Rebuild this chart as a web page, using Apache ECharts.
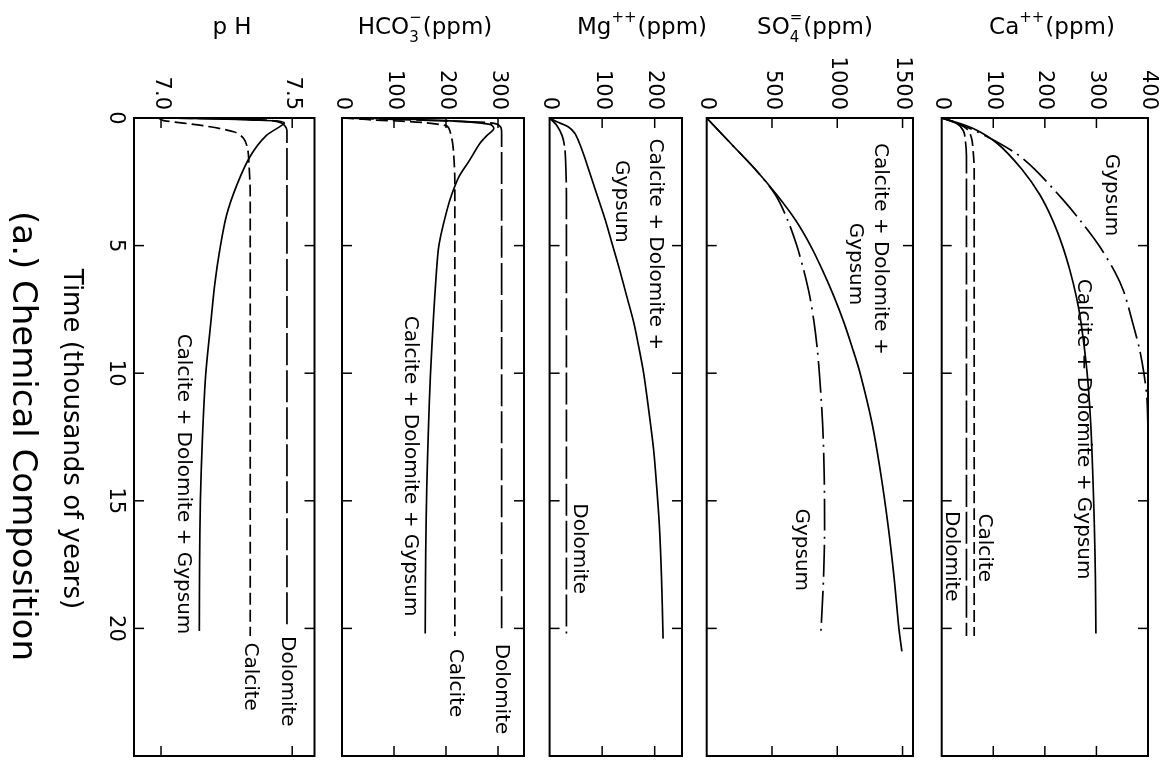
<!DOCTYPE html>
<html>
<head>
<meta charset="utf-8">
<script src="https://cdn.jsdelivr.net/npm/echarts@6/dist/echarts.min.js"></script>
<style>
  html, body { margin: 0; padding: 0; background: #fff; }
  #chart { width: 1166px; height: 766px; }
</style>
</head>
<body>
<div id="chart"></div>
<script>
// ---- Data: [time (thousands of years), value] ----
const timeTicks = [0, 5, 10, 15, 20];
const TIME_MAX = 25;

const phDolomite = [[0, 7.0], [0.08, 7.40], [0.2, 7.46], [0.5, 7.48], [20, 7.48]];
const phCalcite = [[0, 6.99], [0.1, 7.01], [0.3, 7.16], [0.55, 7.28], [0.8, 7.315], [1.2, 7.33], [1.75, 7.335], [3, 7.34], [20.3, 7.34]];
const phMix = [[0, 7.0], [0.08, 7.35], [0.2, 7.47], [0.7, 7.40], [1.5, 7.34], [2.6, 7.29], [3.8, 7.25], [5.1, 7.225], [6.5, 7.205], [8, 7.19], [10.1, 7.17], [12.5, 7.158], [15, 7.15], [17.5, 7.147], [20.1, 7.146]];

const hco3Dolomite = [[0, 0], [0.1, 180], [0.2, 290], [0.35, 305], [0.6, 307], [20, 307]];
const hco3Calcite = [[0, 0], [0.05, 40], [0.3, 200], [0.8, 211], [1.5, 215], [2.5, 217], [20.3, 217]];
const hco3Mix = [[0, 0], [0.1, 200], [0.25, 285], [0.4, 292], [0.7, 278], [1, 265], [1.7, 244], [2.3, 225], [3, 211], [3.6, 202], [4.6, 190], [5.2, 185], [6.5, 180], [7.8, 176], [10.1, 170], [12, 166.5], [14.5, 163], [17, 161], [20.2, 160]];

const mgDolomite = [[0, 0], [0.3, 14], [0.7, 24], [1.2, 29], [2, 31], [3, 32], [20.2, 32]];
const mgMix = [[0, 0], [0.15, 14], [0.35, 36], [0.6, 48], [1, 57], [1.5, 66], [2, 74], [3, 90], [4, 106], [5, 120], [6, 134], [7, 147], [8, 160], [9, 170], [10, 179], [11.5, 189], [13, 198], [14.5, 204], [16, 209], [18, 213], [20.4, 216]];

const so4Mix = [[0, 0], [1, 185], [2, 370], [3, 535], [4, 680], [5, 795], [6, 890], [7, 975], [8, 1050], [9, 1115], [10, 1175], [12, 1268], [14, 1335], [16, 1390], [18, 1435], [20, 1472], [20.9, 1495]];
const so4Gypsum = [[0, 0], [1, 185], [2, 370], [3, 525], [4, 620], [5, 690], [6, 745], [7, 790], [8, 822], [9, 846], [10, 863], [12, 888], [14, 900], [16, 903], [18, 895], [20.1, 875]];

const caCalcite = [[0, 0], [0.2, 30], [0.45, 50], [0.8, 58], [1.3, 61], [2, 63], [20.3, 63]];
const caDolomite = [[0, 0], [0.2, 28], [0.5, 42], [0.9, 46], [1.5, 48], [20.3, 48]];
const caMix = [[0, 0], [0.4, 60], [1, 108], [2, 155], [3, 190], [4, 215], [5, 234], [6, 249], [7, 261], [8, 270], [10, 282], [12, 289], [14, 293], [16, 296], [18, 298], [20.2, 299]];
const caGypsum = [[0, 0], [0.5, 65], [1.33, 140], [2, 180], [3.2, 235], [4, 268], [5, 305], [6, 335], [6.8, 353], [8, 370], [9.1, 384], [10, 392], [11, 398], [12.4, 400]];

// Tick values of each value axis
const phTicks = [7.0, 7.5];
const hco3Ticks = [0, 100, 200, 300];
const mgTicks = [0, 100, 200];
const so4Ticks = [0, 500, 1000, 1500];
const caTicks = [0, 100, 200, 300, 400];

// Curve annotations: [text, value, time where the text starts]
const phNotes = [['Calcite + Dolomite + Gypsum', 7.085, 8.45], ['Calcite', 7.34, 20.55], ['Dolomite', 7.48, 20.3]];
const hco3Notes = [['Calcite + Dolomite + Gypsum', 131, 7.75], ['Calcite', 217, 20.8], ['Dolomite', 307, 20.6]];
const mgNotes = [['Calcite + Dolomite +', 201, 0.8], ['Gypsum', 137, 1.65], ['Dolomite', 56, 15.1]];
const so4Notes = [['Calcite + Dolomite +', 1327, 0.98], ['Gypsum', 1137, 4.1], ['Gypsum', 722, 15.3]];
const caNotes = [['Gypsum', 329, 1.4], ['Calcite + Dolomite + Gypsum', 274, 6.3], ['Calcite', 82, 15.5], ['Dolomite', 19, 15.4]];

// ---- Layout and styles ----
const FONT = 'DejaVu Sans';
const DASH = {
  mix: 'solid',
  calcite: [12, 5],
  dolomite: [32, 5],
  gypsum: [32, 6, 2, 6]
};
const TOP = 118, BOTTOM = 10, TICK_LEN = 10;

const panels = [
  { left: 134, width: 180.5, min: 6.897, max: 7.585, ticks: phTicks, fmt: v => v.toFixed(1),
    lines: [[phDolomite, 'dolomite'], [phCalcite, 'calcite'], [phMix, 'mix']], notes: phNotes },
  { left: 342, width: 182, min: 0, max: 350, ticks: hco3Ticks, fmt: v => String(v),
    lines: [[hco3Dolomite, 'dolomite'], [hco3Calcite, 'calcite'], [hco3Mix, 'mix']], notes: hco3Notes },
  { left: 549.6, width: 132.4, min: 0, max: 252, ticks: mgTicks, fmt: v => String(v),
    lines: [[mgDolomite, 'dolomite'], [mgMix, 'mix']], notes: mgNotes },
  { left: 706.7, width: 206.3, min: 0, max: 1580, ticks: so4Ticks, fmt: v => String(v),
    lines: [[so4Gypsum, 'gypsum'], [so4Mix, 'mix']], notes: so4Notes },
  { left: 941.7, width: 206.3, min: 0, max: 400, ticks: caTicks, fmt: v => String(v),
    lines: [[caCalcite, 'calcite'], [caDolomite, 'dolomite'], [caGypsum, 'gypsum'], [caMix, 'mix']], notes: caNotes }
];

const grid = [], xAxis = [], yAxis = [], series = [];
const tickLine = { stroke: '#000', lineWidth: 1.5 };

// Inward-pointing tick marks on all four sides of a panel, placed through the axes' scales
function tickRenderer(p) {
  return function (params, api) {
    const kind = api.value(0), v = api.value(1);
    const lines = [];
    if (kind === 0) { // value tick: top and bottom edges
      const a = api.coord([v, 0]), b = api.coord([v, TIME_MAX]);
      lines.push([a[0], a[1], a[0], a[1] + TICK_LEN], [b[0], b[1], b[0], b[1] - TICK_LEN]);
    } else {          // time tick: left and right edges
      const a = api.coord([p.min, v]), b = api.coord([p.max, v]);
      lines.push([a[0], a[1], a[0] + TICK_LEN, a[1]], [b[0], b[1], b[0] - TICK_LEN, b[1]]);
    }
    return { type: 'group', children: lines.map(l => ({
      type: 'line', shape: { x1: l[0], y1: l[1], x2: l[2], y2: l[3] }, style: tickLine })) };
  };
}

panels.forEach((p, i) => {
  grid.push({ left: p.left, width: p.width, top: TOP, bottom: BOTTOM, show: true,
    borderColor: '#000', borderWidth: 2, backgroundColor: 'transparent' });

  xAxis.push({ type: 'value', gridIndex: i, min: p.min, max: p.max, position: 'top',
    splitLine: { show: false }, axisLine: { show: false }, axisTick: { show: false },
    axisLabel: { show: true, customValues: p.ticks, rotate: -90, margin: 8, formatter: p.fmt,
      fontFamily: FONT, fontSize: 21, color: '#000' } });

  yAxis.push({ type: 'value', gridIndex: i, min: 0, max: TIME_MAX, inverse: true, position: 'left',
    splitLine: { show: false }, axisLine: { show: false }, axisTick: { show: false },
    axisLabel: { show: i === 0, customValues: timeTicks, rotate: -90, margin: 8,
      fontFamily: FONT, fontSize: 21, color: '#000' } });

  p.lines.forEach(([arr, kind]) => {
    series.push({
      type: 'line', xAxisIndex: i, yAxisIndex: i,
      data: arr.map(d => [d[1], d[0]]),
      symbol: 'none', showSymbol: false, smooth: 0.3, silent: true,
      lineStyle: { color: '#000', width: 1.7, type: DASH[kind] }
    });
  });

  const tickData = p.ticks.filter(v => v > p.min && v < p.max).map(v => [0, v])
    .concat(timeTicks.filter(t => t > 0).map(t => [1, t]));
  series.push({
    type: 'custom', xAxisIndex: i, yAxisIndex: i, silent: true, clip: false,
    encode: { x: -1, y: -1 },
    data: tickData, renderItem: tickRenderer(p)
  });

  series.push({
    type: 'scatter', xAxisIndex: i, yAxisIndex: i, symbolSize: 1, silent: true,
    itemStyle: { color: 'rgba(0,0,0,0)', opacity: 1 },
    data: p.notes.map(n => ({ value: [n[1], n[2]], label: { formatter: n[0] } })),
    label: { show: true, position: 'inside', rotate: -90, align: 'left', verticalAlign: 'middle',
      fontFamily: FONT, fontSize: 20, color: '#000', opacity: 1, textBorderWidth: 0 }
  });
});

// ---- Panel headings with sub/superscripts ----
const measureCtx = document.createElement('canvas').getContext('2d');
function textWidth(t, size) { measureCtx.font = size + 'px "' + FONT + '"'; return measureCtx.measureText(t).width; }
const MAIN = 23, SMALL = 15, MID_Y = 28, SUP_Y = 18, SUB_Y = 38;

const headings = [
  { cx: 232, parts: [{ t: 'p H' }] },
  { cx: 425, parts: [{ t: 'HCO' }, { sub: '3', sup: '\u2212' }, { t: '(ppm)' }] },
  { cx: 642, parts: [{ t: 'Mg' }, { sup: '++' }, { t: '(ppm)' }] },
  { cx: 815, parts: [{ t: 'SO' }, { sub: '4', sup: '=' }, { t: '(ppm)' }] },
  { cx: 1052, parts: [{ t: 'Ca' }, { sup: '++' }, { t: '(ppm)' }] }
];

const graphic = [];
headings.forEach(h => {
  const widths = h.parts.map(pt => pt.t !== undefined ? textWidth(pt.t, MAIN)
    : Math.max(pt.sub ? textWidth(pt.sub, SMALL) : 0, pt.sup ? textWidth(pt.sup, SMALL) : 0) + 1);
  let x = h.cx - widths.reduce((a, b) => a + b, 0) / 2;
  h.parts.forEach((pt, k) => {
    if (pt.t !== undefined) {
      graphic.push({ type: 'text', silent: true, style: { text: pt.t, x: x, y: MID_Y,
        font: MAIN + 'px "' + FONT + '"', fill: '#000', align: 'left', verticalAlign: 'middle' } });
    } else {
      if (pt.sup) graphic.push({ type: 'text', silent: true, style: { text: pt.sup, x: x, y: SUP_Y,
        font: SMALL + 'px "' + FONT + '"', fill: '#000', align: 'left', verticalAlign: 'middle' } });
      if (pt.sub) graphic.push({ type: 'text', silent: true, style: { text: pt.sub, x: x, y: SUB_Y,
        font: SMALL + 'px "' + FONT + '"', fill: '#000', align: 'left', verticalAlign: 'middle' } });
    }
    x += widths[k];
  });
});

graphic.push({ type: 'text', silent: true, x: 71, y: 439, rotation: -Math.PI / 2,
  style: { text: 'Time (thousands of years)', x: 0, y: 0, font: '26px "' + FONT + '"', fill: '#000',
    align: 'center', verticalAlign: 'middle' } });
graphic.push({ type: 'text', silent: true, x: 22, y: 436, rotation: -Math.PI / 2,
  style: { text: '(a.) Chemical Composition', x: 0, y: 0, font: '34px "' + FONT + '"', fill: '#000',
    align: 'center', verticalAlign: 'middle' } });

const chart = echarts.init(document.getElementById('chart'), null, { renderer: 'canvas' });
chart.setOption({
  animation: false,
  backgroundColor: '#fff',
  grid, xAxis, yAxis, series, graphic
});
</script>
</body>
</html>
